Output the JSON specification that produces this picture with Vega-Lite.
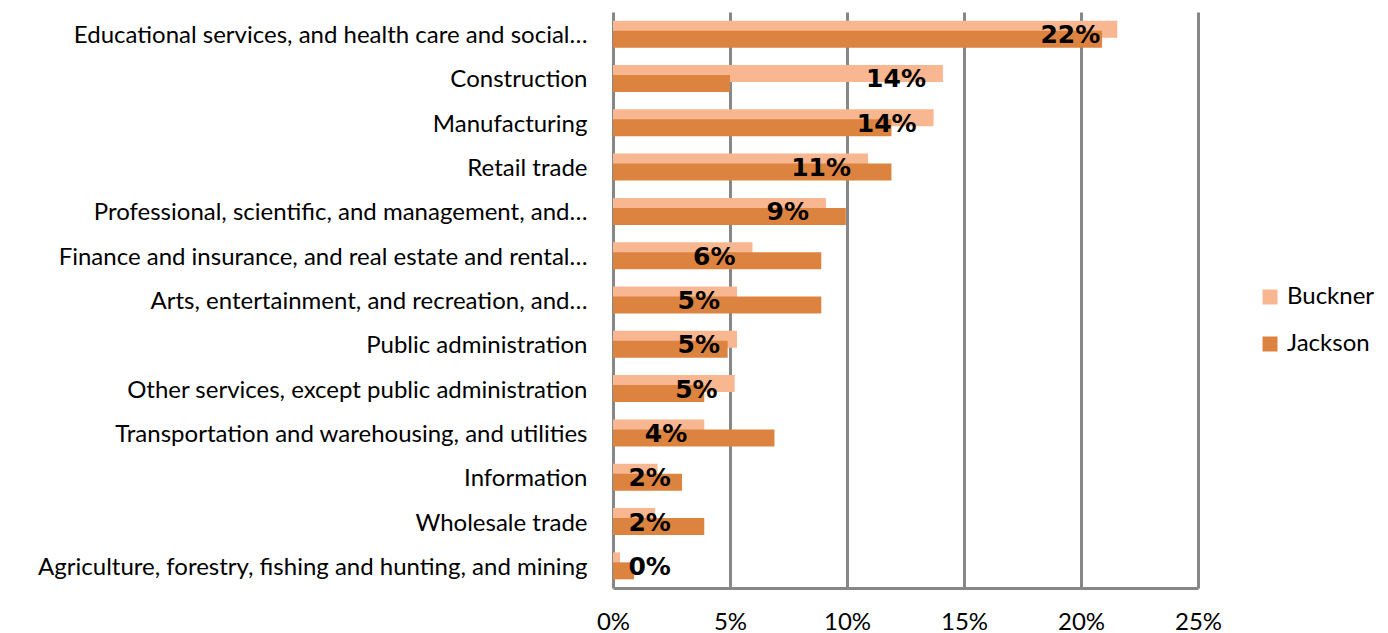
{
  "$schema": "https://vega.github.io/schema/vega-lite/v6.json",
  "width": 585,
  "height": 576,
  "autosize": {"type": "none"},
  "padding": {"left": 613, "top": 12, "right": 190, "bottom": 45},
  "background": "white",
  "config": {
    "view": {"stroke": null},
    "font": "Lato",
    "axis": {"labelFont": "Lato", "labelFontSize": 24, "labelColor": "#000000", "ticks": false, "title": null},
    "axisX": {"grid": true, "gridColor": "#878787", "gridWidth": 3, "domainColor": "#878787", "domainWidth": 3, "labelPadding": 22, "labelFlush": false},
    "axisY": {"domain": false, "grid": false, "labelPadding": 26, "labelLimit": 620, "labelOffset": 2}
  },
  "data": {
    "values": [
      {"industry": "Educational services, and health care and social…", "series": "Buckner", "value": 0.2155},
      {"industry": "Educational services, and health care and social…", "series": "Jackson", "value": 0.209},
      {"industry": "Construction", "series": "Buckner", "value": 0.141},
      {"industry": "Construction", "series": "Jackson", "value": 0.050},
      {"industry": "Manufacturing", "series": "Buckner", "value": 0.137},
      {"industry": "Manufacturing", "series": "Jackson", "value": 0.119},
      {"industry": "Retail trade", "series": "Buckner", "value": 0.109},
      {"industry": "Retail trade", "series": "Jackson", "value": 0.119},
      {"industry": "Professional, scientific, and management, and…", "series": "Buckner", "value": 0.091},
      {"industry": "Professional, scientific, and management, and…", "series": "Jackson", "value": 0.0995},
      {"industry": "Finance and insurance, and real estate and rental…", "series": "Buckner", "value": 0.0596},
      {"industry": "Finance and insurance, and real estate and rental…", "series": "Jackson", "value": 0.089},
      {"industry": "Arts, entertainment, and recreation, and…", "series": "Buckner", "value": 0.053},
      {"industry": "Arts, entertainment, and recreation, and…", "series": "Jackson", "value": 0.089},
      {"industry": "Public administration", "series": "Buckner", "value": 0.053},
      {"industry": "Public administration", "series": "Jackson", "value": 0.049},
      {"industry": "Other services, except public administration", "series": "Buckner", "value": 0.052},
      {"industry": "Other services, except public administration", "series": "Jackson", "value": 0.039},
      {"industry": "Transportation and warehousing, and utilities", "series": "Buckner", "value": 0.039},
      {"industry": "Transportation and warehousing, and utilities", "series": "Jackson", "value": 0.069},
      {"industry": "Information", "series": "Buckner", "value": 0.019},
      {"industry": "Information", "series": "Jackson", "value": 0.0295},
      {"industry": "Wholesale trade", "series": "Buckner", "value": 0.018},
      {"industry": "Wholesale trade", "series": "Jackson", "value": 0.039},
      {"industry": "Agriculture, forestry, fishing and hunting, and mining", "series": "Buckner", "value": 0.003},
      {"industry": "Agriculture, forestry, fishing and hunting, and mining", "series": "Jackson", "value": 0.009}
    ]
  },
  "encoding": {
    "y": {
      "field": "industry",
      "type": "nominal",
      "sort": [
        "Educational services, and health care and social…",
        "Construction",
        "Manufacturing",
        "Retail trade",
        "Professional, scientific, and management, and…",
        "Finance and insurance, and real estate and rental…",
        "Arts, entertainment, and recreation, and…",
        "Public administration",
        "Other services, except public administration",
        "Transportation and warehousing, and utilities",
        "Information",
        "Wholesale trade",
        "Agriculture, forestry, fishing and hunting, and mining"
      ],
      "scale": {"paddingInner": 0, "paddingOuter": 0},
      "title": null
    }
  },
  "layer": [
    {
      "transform": [{"filter": "datum.series === 'Buckner'"}],
      "mark": {"type": "bar", "height": 17, "yOffset": -5},
      "encoding": {
        "x": {"field": "value", "type": "quantitative", "scale": {"domain": [0, 0.25], "nice": false}, "axis": {"values": [0, 0.05, 0.1, 0.15, 0.2, 0.25], "format": ".0%"}, "title": null},
        "color": {
          "field": "series", "type": "nominal",
          "scale": {"domain": ["Buckner", "Jackson"], "range": ["#F8B790", "#DD8340"]},
          "legend": {"orient": "none", "legendX": 645, "legendY": 273, "title": null, "symbolType": "square", "symbolSize": 225, "labelFontSize": 24, "labelFont": "Lato", "labelColor": "#000000", "rowPadding": 23, "labelOffset": 5, "symbolStrokeWidth": 0}
        }
      }
    },
    {
      "transform": [{"filter": "datum.series === 'Jackson'"}],
      "mark": {"type": "bar", "height": 17, "yOffset": 5},
      "encoding": {
        "x": {"field": "value", "type": "quantitative", "scale": {"domain": [0, 0.25], "nice": false}, "axis": {"values": [0, 0.05, 0.1, 0.15, 0.2, 0.25], "format": ".0%"}, "title": null},
        "color": {"field": "series", "type": "nominal"}
      }
    },
    {
      "transform": [
        {"filter": "datum.series === 'Buckner'"},
        {"calculate": "max(datum.value, 0.032)", "as": "labelAnchor"}
      ],
      "mark": {"type": "text", "align": "right", "baseline": "middle", "dx": -17, "dy": 1, "font": "DejaVu Sans", "fontWeight": "bold", "fontSize": 25, "color": "#000000"},
      "encoding": {
        "x": {"field": "labelAnchor", "type": "quantitative", "scale": {"domain": [0, 0.25], "nice": false}, "title": null},
        "text": {"field": "value", "type": "quantitative", "format": ".0%"}
      }
    }
  ]
}
